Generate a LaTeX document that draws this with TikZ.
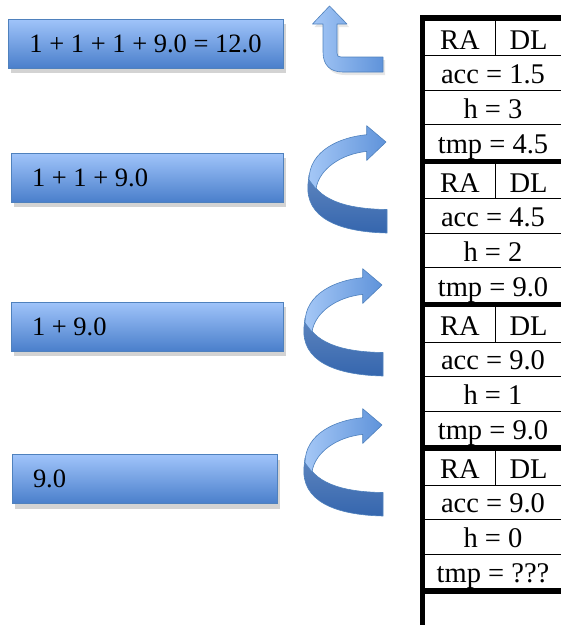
\documentclass[tikz,border=0pt]{standalone}
\usepackage{fontspec}
\setmainfont{Liberation Serif}
\usetikzlibrary{shadows}
\definecolor{boxTop}{HTML}{A0C4FA}
\definecolor{boxBottom}{HTML}{4A7FCB}
\definecolor{boxEdge}{HTML}{4F81BD}
\definecolor{arrowLight}{HTML}{A4C7F6}
\definecolor{arrowMid}{HTML}{5F93DA}
\definecolor{arrowDark}{HTML}{3566AE}

\begin{document}
\begin{tikzpicture}[x=1pt, y=-1pt,
    exprbox/.style={rectangle, draw=boxEdge, line width=1pt,
                    top color=boxTop, bottom color=boxBottom,
                    minimum height=49pt, inner xsep=21pt,
                    font=\fontsize{26.5}{30}\selectfont,
                    drop shadow={shadow xshift=3pt, shadow yshift=-5pt, opacity=0.35}},
    cell/.style={anchor=base, inner sep=0pt, font=\fontsize{28.5}{30}\selectfont},
    frameline/.style={line width=5.5pt},
    rowline/.style={line width=0.9pt},
    ribbon/.style={draw=boxEdge, line width=0.6pt, line join=round}
  ]
  \useasboundingbox (0,0) rectangle (561,625);

  \node[exprbox, minimum width=275pt] (total) at (145.5,43.5) {1 + 1 + 1 + 9.0 = 12.0};
  \node[exprbox] (sum3) at (147,177.5) {\makebox[230pt][l]{1 + 1 + 9.0}};
  \node[exprbox] (sum2) at (147,326.5) {\makebox[230pt][l]{1 + 9.0}};
  \node[exprbox] (sum1) at (144.5,479) {\makebox[223pt][l]{9.0}};

  \draw[ribbon, left color=arrowLight, right color=arrowMid,
        drop shadow={shadow xshift=2pt, shadow yshift=-3pt, opacity=0.2}]
    (383,57) -- (341,57) .. controls (338,57) and (337,56) .. (337,53)
    -- (337,24) -- (347,24) -- (329.5,6) -- (312.5,24) -- (323,24)
    -- (323,52) .. controls (323,65) and (330,72) .. (343,72) -- (383,72) -- cycle;

  \foreach \tx/\ty in {386/142, 382/285, 382/425} {
    \begin{scope}[shift={(\tx,\ty)}]
      \draw[ribbon, top color=arrowDark!80, bottom color=arrowDark]
        (-77,33) .. controls (-70,57) and (-42,67) .. (1,67.5) -- (1,91)
        .. controls (-47,90) and (-81,76) .. (-78,42) -- cycle;
      \draw[ribbon, left color=arrowLight, right color=arrowMid]
        (0,0) -- (-19.3,18.4) -- (-19.3,9.4)
        .. controls (-45,12) and (-67,27) .. (-70,47) -- (-77,38)
        .. controls (-77,8) and (-45,-5) .. (-19.3,-7.3) -- (-19.3,-16.3) -- cycle;
    \end{scope}
  }

  \draw[frameline] (422.5,15) -- (422.5,625);
  \draw[frameline] (420,591) -- (561,591);
  \foreach \k/\acc/\h/\tmp in {0/1.5/3/4.5, 1/4.5/2/9.0, 2/9.0/1/9.0, 3/9.0/0/???} {
    \pgfmathsetmacro\fy{18+143.25*\k}
    \draw[frameline] (420,\fy) -- (561,\fy);
    \draw[rowline] (425,\fy+37.5) -- (561,\fy+37.5);
    \draw[rowline] (425,\fy+72) -- (561,\fy+72);
    \draw[rowline] (425,\fy+106.5) -- (561,\fy+106.5);
    \draw[rowline] (495.7,\fy) -- (495.7,\fy+37.5);
    \node[cell] (ra\k) at (460,\fy+31) {RA};
    \node[cell] (dl\k) at (528.5,\fy+31) {DL};
    \node[cell] (acc\k) at (493,\fy+65) {acc = \acc};
    \node[cell] (h\k) at (493,\fy+100) {h = \h};
    \node[cell] (tmp\k) at (493,\fy+135) {tmp = \tmp};
  }
\end{tikzpicture}
\end{document}
